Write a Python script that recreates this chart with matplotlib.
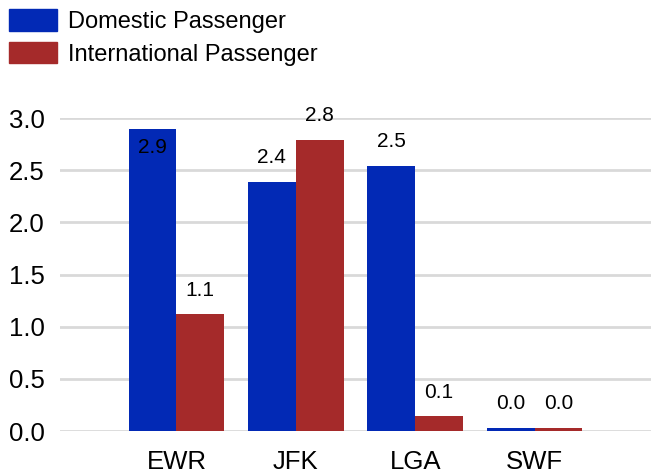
import numpy as np
import matplotlib.pyplot as plt
from matplotlib.patches import Patch

# Данні з графіка
airports = ['EWR', 'JFK', 'LGA', 'SWF']
domestic = [2.89, 2.39, 2.54, 0.03]
international = [1.12, 2.79, 0.14, 0.03]
series_names = ['Domestic Passenger', 'International Passenger']
yticks = [0.0, 0.5, 1.0, 1.5, 2.0, 2.5, 3.0]

blue = '#0229b5'
red = '#a52a2a'

plt.rcParams['font.family'] = ['Liberation Sans', 'DejaVu Sans']

fig = plt.figure(figsize=(6.51, 4.73), dpi=100)
ax = fig.add_axes([60 / 651, 42 / 473, 591 / 651, 313 / 473])

x = np.arange(len(airports))
w = 0.4
b1 = ax.bar(x - w / 2, domestic, w, color=blue, zorder=3)
b2 = ax.bar(x + w / 2, international, w, color=red, zorder=3)

# Підписи значень
for bars, vals in [(b1, domestic), (b2, international)]:
    for bar, v in zip(bars, vals):
        cx = bar.get_x() + bar.get_width() / 2
        if v > 2.85:
            ax.text(cx, v - 0.08, f'{v:.1f}', ha='center', va='top', fontsize=15, zorder=4, clip_on=False)
        else:
            ax.text(cx, v + 0.14, f'{v:.1f}', ha='center', va='bottom', fontsize=15, zorder=4, clip_on=False)

ax.set_xlim(-0.975, 3.975)
ax.set_ylim(0, 3.0)
ax.set_yticks(yticks)
ax.set_yticklabels([f'{t:.1f}' for t in yticks], fontsize=18.5)
ax.set_xticks(x)
ax.set_xticklabels(airports, fontsize=18.5)
ax.tick_params(length=0)
ax.tick_params(axis='x', pad=14)
ax.tick_params(axis='y', pad=11)
for s in ax.spines.values():
    s.set_visible(False)
ax.grid(axis='y', color='#d9d9d9', linewidth=2, zorder=0)
ax.set_axisbelow(True)

handles = [Patch(color=blue), Patch(color=red)]
fig.legend(handles, series_names, loc='upper left', bbox_to_anchor=(9 / 651, 1 - 9.5 / 473),
           frameon=False, fontsize=17, handlelength=2.03, handleheight=1.0,
           handletextpad=0.47, labelspacing=0.38, borderaxespad=0, borderpad=0)

fig.savefig('out.png', dpi=100)
